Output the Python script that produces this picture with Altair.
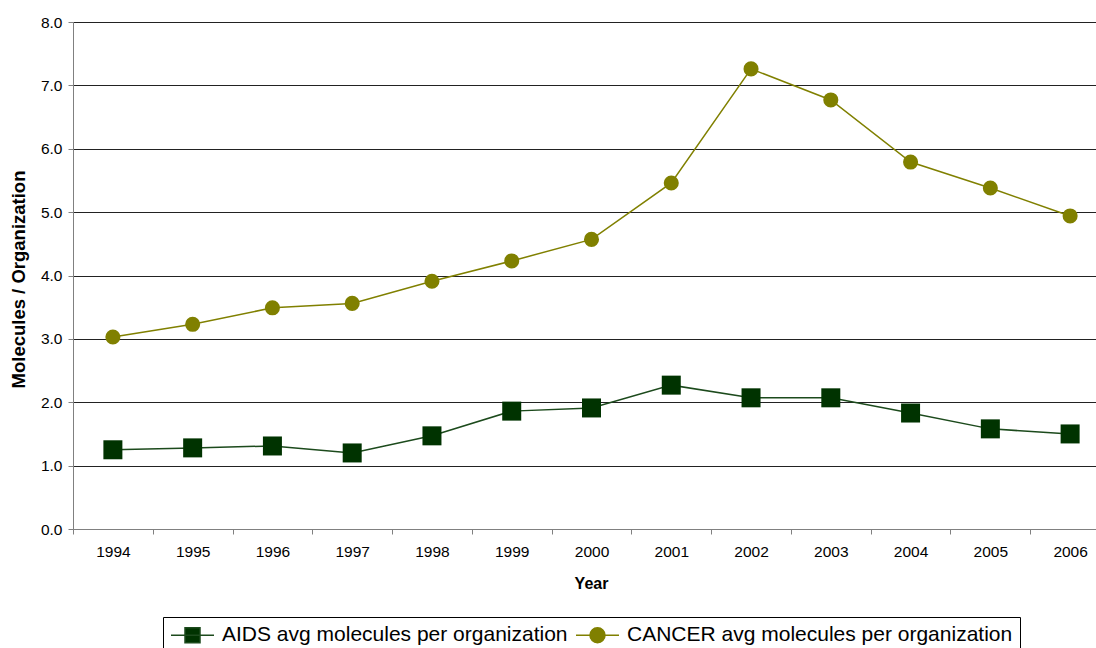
import altair as alt
import pandas as pd

years = [1994, 1995, 1996, 1997, 1998, 1999, 2000, 2001, 2002, 2003, 2004, 2005, 2006]
aids = [1.25, 1.28, 1.31, 1.20, 1.47, 1.86, 1.91, 2.27, 2.07, 2.07, 1.83, 1.58, 1.50]
cancer = [3.03, 3.23, 3.49, 3.56, 3.91, 4.23, 4.57, 5.46, 7.26, 6.77, 5.79, 5.38, 4.94]
series_names = ["AIDS avg molecules per organization", "CANCER avg molecules per organization"]
series_colors = ["#003300", "#808000"]
line_colors = ["#1c4a1c", "#808000"]
y_ticks = [0, 1, 2, 3, 4, 5, 6, 7, 8]

df = pd.DataFrame({
    "year": years + years,
    "value": aids + cancer,
    "series": [series_names[0]] * len(years) + [series_names[1]] * len(years),
})

FONT = "Liberation Sans"

x_enc = alt.X(
    "year:O",
    bandPosition=0.5,
    scale=alt.Scale(type="band", range=[0, 1037], paddingInner=0, paddingOuter=0),
    axis=alt.Axis(
        title="Year", tickBand="extent", labelAngle=0, grid=False,
        domainColor="#808080", tickColor="#808080", tickSize=5,
        labelFontSize=15.5, labelPadding=10, labelColor="black",
        titleFontSize=16, titleFontWeight="bold", titleColor="black",
        titleX=518, titleY=54, titleBaseline="middle", titleAlign="center",
    ),
)
y_enc = alt.Y(
    "value:Q",
    scale=alt.Scale(domain=[0, 8], nice=False, zero=True),
    axis=alt.Axis(
        values=y_ticks, format=".1f", title="Molecules / Organization",
        grid=True, gridColor="#222222", gridWidth=1,
        domainColor="#808080", tickColor="#808080", tickSize=5,
        labelFontSize=15.5, labelPadding=6, labelColor="black",
        titleFontSize=18.5, titleFontWeight="bold", titleColor="black",
        titleX=-55, titleY=257, titleAngle=-90, titleBaseline="middle", titleAlign="center",
    ),
)

base = alt.Chart(df)

sq_path = "M-1,0H3.3M0.4,-0.75H1.9V0.75H0.4Z"
ci_path = "M-1,0H3.3M1.9,0A0.75,0.75,0,1,1,0.4,0A0.75,0.75,0,1,1,1.9,0Z"

leg = alt.Legend(
    title=None, orient="none", legendX=90, legendY=595, direction="horizontal",
    strokeColor="black", padding=7, labelFontSize=21, labelFont=FONT, labelColor="black",
    symbolSize=400, symbolStrokeWidth=1.5, labelOffset=30, columnPadding=5, labelLimit=600,
)

legend_layer = base.transform_calculate(value="-10").mark_point(
    filled=True, size=400, opacity=1, clip=True
).encode(
    x=x_enc, y=y_enc,
    shape=alt.Shape("series:N", scale=alt.Scale(domain=series_names, range=[sq_path, ci_path]), legend=leg),
    fill=alt.Fill("series:N", scale=alt.Scale(domain=series_names, range=series_colors), legend=leg),
    stroke=alt.Stroke("series:N", scale=alt.Scale(domain=series_names, range=line_colors), legend=leg),
)

lines = base.mark_line(strokeWidth=1.5).encode(
    x=x_enc, y=y_enc,
    color=alt.Color("series:N", scale=alt.Scale(domain=series_names, range=line_colors), legend=None),
)

pts_aids = base.transform_filter(alt.datum.series == series_names[0]).mark_point(
    shape="square", filled=True, size=361, color=series_colors[0], opacity=1
).encode(x=x_enc, y=y_enc)

pts_cancer = base.transform_filter(alt.datum.series == series_names[1]).mark_point(
    shape="circle", filled=True, size=227, color=series_colors[1], opacity=1
).encode(x=x_enc, y=y_enc)

chart = alt.layer(legend_layer, lines, pts_aids, pts_cancer).properties(
    width=1023, height=507,
    autosize=alt.AutoSizeParams(type="none"),
    padding={"left": 73, "top": 22, "right": 0, "bottom": 119},
    background="white",
).configure_view(stroke=None).configure_axis(labelFont=FONT, titleFont=FONT)

chart.save("out.html", embed_options={"renderer": "svg", "actions": False})
